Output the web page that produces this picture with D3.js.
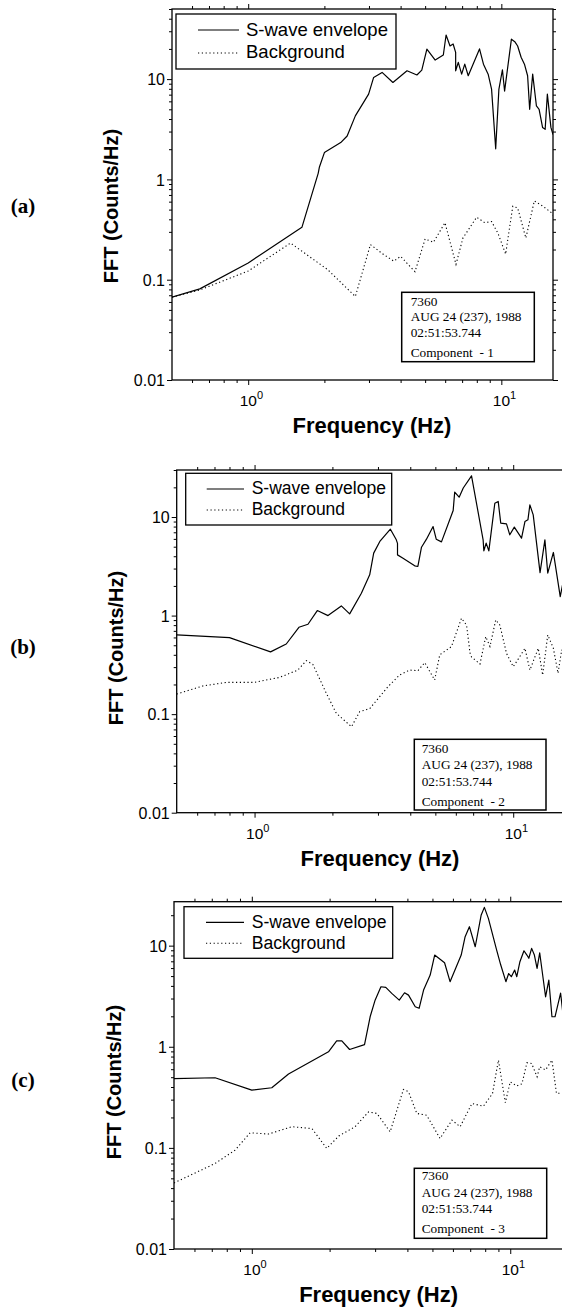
<!DOCTYPE html>
<html>
<head>
<meta charset="utf-8">
<script src="https://cdn.jsdelivr.net/npm/d3@7"></script>
<style>
  body { margin: 0; background: #fff; }
  svg { display: block; }
</style>
</head>
<body>
<svg id="fig" width="562" height="1309"></svg>
<script>
// ---- data: spectra as [frequency (Hz), amplitude (counts/Hz)] ----
const swaveA = [[0.5,0.067],[0.644,0.081],[1.0,0.147],[1.63,0.333],[1.89,1.15],[1.91,1.32],[2.0,1.85],[2.32,2.33],[2.46,2.71],[2.65,4.3],[2.99,7.08],[3.13,10.4],[3.38,11.66],[3.73,9.26],[4.24,12.1],[4.64,11.0],[4.85,12.3],[5.08,19.95],[5.48,15.5],[5.9,17.4],[6.05,27.5],[6.27,21.4],[6.45,22.4],[6.6,18.5],[6.6,12.1],[6.76,14.7],[6.97,11.2],[7.17,14.1],[7.4,10.8],[8.2,20],[8.5,14.1],[8.87,11.2],[9.15,7.94],[9.5,2.02],[9.78,7.9],[10.1,12.4],[10.3,7.6],[10.96,25],[11.3,23.6],[11.6,21.4],[11.97,16.5],[12.34,14.1],[12.7,10.8],[12.94,5.0],[13.3,11.2],[13.76,5.4],[14.1,5.0],[14.55,3.3],[14.9,3.16],[15.2,7.08],[15.7,3.3],[16,2.8]];
const backgroundA = [[0.5,0.067],[0.644,0.079],[1.0,0.122],[1.47,0.232],[2.06,0.126],[2.65,0.068],[3.04,0.224],[3.43,0.178],[3.76,0.153],[4.0,0.171],[4.56,0.12],[5.0,0.255],[5.39,0.236],[5.99,0.37],[6.62,0.142],[7.05,0.26],[7.99,0.42],[8.6,0.37],[9.15,0.38],[9.7,0.29],[10.4,0.18],[11.1,0.54],[11.6,0.52],[12.5,0.26],[13.5,0.61],[14.6,0.54],[15.7,0.47],[16,0.44]];

const swaveB = [[0.5,0.636],[0.8,0.598],[1.153,0.428],[1.326,0.515],[1.484,0.761],[1.609,0.817],[1.748,1.124],[1.923,1.0],[2.165,1.254],[2.332,1.04],[2.588,1.686],[2.787,2.59],[2.888,4.3],[3.05,5.65],[3.351,7.53],[3.532,5.87],[3.57,5.4],[3.57,4.13],[3.75,3.82],[4.16,3.2],[4.28,3.15],[4.42,4.94],[4.62,5.96],[4.9,8.0],[5.04,5.96],[5.28,5.6],[5.86,11.66],[5.94,17.9],[6.18,15.9],[6.41,19.7],[6.9,26.2],[7.65,5.87],[7.7,4.54],[7.86,5.43],[8.05,4.54],[8.49,13.8],[8.75,14.4],[8.95,8.66],[9.42,8.53],[9.7,6.6],[10.1,7.9],[10.77,6.1],[11.1,9.0],[11.4,9.37],[11.6,13.3],[11.95,10.5],[12.7,2.73],[13.26,5.87],[13.6,2.7],[14.3,4.37],[15.2,1.56],[15.6,2.2],[16,2.6]];
const backgroundB = [[0.5,0.16],[0.63,0.193],[0.777,0.21],[1.0,0.21],[1.25,0.236],[1.47,0.28],[1.585,0.349],[1.68,0.32],[1.894,0.163],[2.07,0.102],[2.37,0.0745],[2.55,0.106],[2.79,0.114],[3.28,0.19],[3.64,0.25],[3.98,0.28],[4.28,0.276],[4.55,0.333],[4.97,0.222],[5.2,0.4],[5.77,0.484],[6.31,0.94],[6.6,0.8],[6.78,0.46],[6.78,0.43],[6.9,0.38],[7.44,0.323],[7.83,0.612],[8.13,0.485],[8.56,0.904],[8.88,0.8],[9.42,0.414],[10.0,0.303],[10.4,0.354],[11.1,0.466],[11.6,0.28],[12.5,0.466],[13.0,0.249],[13.6,0.636],[14.3,0.466],[14.9,0.26],[15.4,0.45],[16,0.3]];

const swaveC = [[0.5,0.483],[0.721,0.494],[1.0,0.373],[1.195,0.393],[1.387,0.537],[1.98,0.892],[2.13,1.146],[2.23,1.146],[2.39,0.94],[2.73,1.05],[2.87,1.98],[3.0,2.89],[3.16,3.92],[3.3,3.86],[3.48,3.37],[3.72,2.89],[3.9,3.42],[4.04,3.24],[4.29,2.49],[4.44,2.4],[4.62,3.64],[4.9,5.12],[5.1,8.07],[5.57,6.77],[5.85,4.4],[6.46,8.07],[6.69,12.25],[6.95,15.4],[7.32,9.75],[7.72,20.1],[7.94,23.9],[8.23,18.6],[8.86,9.04],[9.19,6.43],[9.62,4.4],[9.86,5.3],[10.1,4.93],[10.4,5.74],[10.6,4.93],[10.9,6.93],[11.3,8.9],[11.6,8.07],[11.8,7.5],[12.1,9.4],[12.4,8.07],[12.7,5.96],[13.0,8.5],[13.7,3.12],[14.1,4.57],[14.5,1.98],[14.9,1.98],[15.66,3.4],[16,2.1]];
const backgroundC = [[0.5,0.045],[0.72,0.07],[0.862,0.095],[0.985,0.141],[1.16,0.137],[1.43,0.162],[1.71,0.155],[1.95,0.0987],[2.17,0.131],[2.51,0.162],[2.83,0.227],[3.05,0.219],[3.43,0.144],[3.86,0.378],[4.04,0.359],[4.35,0.219],[4.75,0.21],[5.35,0.124],[5.95,0.188],[6.4,0.162],[7.11,0.275],[7.87,0.258],[8.54,0.345],[9.0,0.738],[9.57,0.28],[10.0,0.45],[10.6,0.41],[11.1,0.43],[11.6,0.695],[12.1,0.684],[12.7,0.505],[13.0,0.634],[13.7,0.59],[14.5,0.738],[15.1,0.345],[16,0.35]];

// ---- labels and axis ticks ----
const panelTags = ["(a)", "(b)", "(c)"];
const legendLabels = ["S-wave envelope", "Background"];
const stationInfo = ["7360", "AUG 24 (237), 1988", "02:51:53.744"];
const componentLabels = ["Component  - 1", "Component  - 2", "Component  - 3"];
const yTickValues = [0.01, 0.1, 1, 10];
const yTickLabels = ["0.01", "0.1", "1", "10"];
const xTickValues = [1, 10];
const xTickExponents = ["0", "1"];
const xDomain = [0.5, 16];
const yMaxByPanel = [50, 30, 27.2];
const xTitle = "Frequency (Hz)";
const yTitle = "FFT (Counts/Hz)";

// ---- page layout ----
const SANS = "'Liberation Sans', Arial, Helvetica, sans-serif";
const SERIF = "'Liberation Serif', 'Times New Roman', Times, serif";
const layout = [
  { left: 172, right: 553, top: 9, bottom: 380,
    tag: [23, 213], yTitle: [118, 206], xTitle: [372, 433],
    legend: { x: 176, y: 14, w: 220, h: 55, x0: 198, x1: 239, r1: 30, r2: 53, tx: 246, b1: 36, b2: 57.5, fs: 18.5 },
    info: { x: 401.7, y: 292.3, w: 132.6, h: 69.4, tx: 410.7, bases: [306, 320.7, 336.7, 356.7] } },
  { left: 176.7, right: 566, top: 470, bottom: 812.7,
    tag: [23, 654], yTitle: [123, 648], xTitle: [380, 866],
    legend: { x: 185.7, y: 473.3, w: 206, h: 51.7, x0: 206.7, x1: 244, r1: 489, r2: 510, tx: 251.7, b1: 494, b2: 514.5, fs: 17.5 },
    info: { x: 414.3, y: 739.3, w: 131.7, h: 70.7, tx: 421.7, bases: [753.3, 769.3, 785.7, 805.7] } },
  { left: 174, right: 563, top: 901.7, bottom: 1249,
    tag: [23, 1087], yTitle: [121, 1082], xTitle: [378.6, 1302],
    legend: { x: 184, y: 906.7, w: 208.7, h: 51.6, x0: 206, x1: 244, r1: 922.3, r2: 943.3, tx: 251.7, b1: 927.5, b2: 948.5, fs: 17.6 },
    info: { x: 414.3, y: 1168.3, w: 132.4, h: 70, tx: 421.7, bases: [1180, 1196.7, 1213.3, 1233.3] } }
];
const swaveSets = [swaveA, swaveB, swaveC];
const backgroundSets = [backgroundA, backgroundB, backgroundC];

const svg = d3.select("#fig");

function minorTicks(lo, hi) {
  const out = [];
  for (let e = -3; e <= 2; e++) {
    for (let k = 2; k <= 9; k++) {
      const v = k * Math.pow(10, e);
      if (v >= lo * 0.999 && v <= hi * 1.001) out.push(v);
    }
  }
  return out;
}

function strip(sel) {
  sel.select(".domain").remove();
  sel.selectAll(".tick line").attr("stroke", "#000").attr("stroke-width", 1);
  return sel;
}

layout.forEach((L, i) => {
  const g = svg.append("g");
  const x = d3.scaleLog().domain(xDomain).range([L.left, L.right]);
  const y = d3.scaleLog().domain([0.01, yMaxByPanel[i]]).range([L.bottom, L.top]);
  const xMinor = minorTicks(xDomain[0], xDomain[1]).filter(v => v > xDomain[0]);
  const yMinor = minorTicks(0.01, yMaxByPanel[i]);

  // clip region for the spectra
  const clipId = "clip" + i;
  g.append("clipPath").attr("id", clipId)
    .append("rect").attr("x", L.left).attr("y", L.top)
    .attr("width", L.right - L.left).attr("height", L.bottom - L.top);

  // minor ticks on all four sides
  strip(g.append("g").attr("transform", `translate(0,${L.bottom})`)
    .call(d3.axisBottom(x).tickValues(xMinor).tickSize(3).tickFormat("")));
  strip(g.append("g").attr("transform", `translate(0,${L.top})`)
    .call(d3.axisTop(x).tickValues(xMinor).tickSize(3).tickFormat("")));
  strip(g.append("g").attr("transform", `translate(${L.left},0)`)
    .call(d3.axisLeft(y).tickValues(yMinor).tickSize(3).tickFormat("")));
  strip(g.append("g").attr("transform", `translate(${L.right},0)`)
    .call(d3.axisRight(y).tickValues(yMinor).tickSize(3).tickFormat("")));

  // major ticks
  const bx = strip(g.append("g").attr("transform", `translate(0,${L.bottom})`)
    .call(d3.axisBottom(x).tickValues(xTickValues).tickSize(5).tickFormat("")));
  strip(g.append("g").attr("transform", `translate(0,${L.top})`)
    .call(d3.axisTop(x).tickValues(xTickValues).tickSize(5).tickFormat("")));
  const ly = strip(g.append("g").attr("transform", `translate(${L.left},0)`)
    .call(d3.axisLeft(y).tickValues(yTickValues).tickSize(5)
      .tickFormat((d, k) => yTickLabels[k])));
  strip(g.append("g").attr("transform", `translate(${L.right},0)`)
    .call(d3.axisRight(y).tickValues(yTickValues).tickSize(5).tickFormat("")));

  ly.selectAll(".tick text")
    .attr("x", -7).attr("dy", "0.36em")
    .attr("font-family", SANS).attr("font-size", 16).attr("fill", "#000");

  // decade labels 10^n
  bx.selectAll(".tick").each(function (d, k) {
    const t = d3.select(this).append("text")
      .attr("y", 26).attr("text-anchor", "start")
      .attr("font-family", SANS).attr("fill", "#000");
    t.append("tspan").attr("x", -9).attr("font-size", 15.5).text("10");
    t.append("tspan").attr("dy", -7).attr("font-size", 11).text(xTickExponents[k]);
  });

  // frame
  g.append("rect")
    .attr("x", L.left).attr("y", L.top)
    .attr("width", L.right - L.left).attr("height", L.bottom - L.top)
    .attr("fill", "none").attr("stroke", "#000").attr("stroke-width", 1.3);

  const line = d3.line().x(d => x(d[0])).y(d => y(d[1]));
  const plot = g.append("g").attr("clip-path", `url(#${clipId})`);
  plot.append("path").datum(backgroundSets[i])
    .attr("d", line).attr("fill", "none").attr("stroke", "#000")
    .attr("stroke-width", 1.1).attr("stroke-dasharray", "1.2,2.6");
  plot.append("path").datum(swaveSets[i])
    .attr("d", line).attr("fill", "none").attr("stroke", "#000")
    .attr("stroke-width", 1.2).attr("stroke-linejoin", "round");

  // legend
  const lg = L.legend;
  g.append("rect").attr("x", lg.x).attr("y", lg.y).attr("width", lg.w).attr("height", lg.h)
    .attr("fill", "#fff").attr("stroke", "#000").attr("stroke-width", 1.3);
  g.append("line").attr("x1", lg.x0).attr("x2", lg.x1).attr("y1", lg.r1).attr("y2", lg.r1)
    .attr("stroke", "#000").attr("stroke-width", 1.2);
  g.append("line").attr("x1", lg.x0).attr("x2", lg.x1).attr("y1", lg.r2).attr("y2", lg.r2)
    .attr("stroke", "#000").attr("stroke-width", 1.1).attr("stroke-dasharray", "1.2,2.6");
  [lg.b1, lg.b2].forEach((b, k) => {
    g.append("text").attr("x", lg.tx).attr("y", b)
      .attr("font-family", SANS).attr("font-size", lg.fs).attr("fill", "#000")
      .text(legendLabels[k]);
  });

  // station / event box
  const inf = L.info;
  g.append("rect").attr("x", inf.x).attr("y", inf.y).attr("width", inf.w).attr("height", inf.h)
    .attr("fill", "#fff").attr("stroke", "#000").attr("stroke-width", 1.5);
  stationInfo.concat([componentLabels[i]]).forEach((s, k) => {
    g.append("text").attr("x", inf.tx).attr("y", inf.bases[k])
      .attr("font-family", SERIF).attr("font-size", 13.3).attr("fill", "#000")
      .attr("xml:space", "preserve").style("white-space", "pre")
      .text(s);
  });

  // axis titles
  g.append("text")
    .attr("transform", `translate(${L.yTitle[0]},${L.yTitle[1]}) rotate(-90)`)
    .attr("text-anchor", "middle")
    .attr("font-family", SANS).attr("font-weight", "bold").attr("font-size", 20)
    .attr("fill", "#000").text(yTitle);
  g.append("text")
    .attr("x", L.xTitle[0]).attr("y", L.xTitle[1])
    .attr("text-anchor", "middle")
    .attr("font-family", SANS).attr("font-weight", "bold").attr("font-size", 22)
    .attr("fill", "#000").text(xTitle);

  // panel tag
  g.append("text")
    .attr("x", L.tag[0]).attr("y", L.tag[1]).attr("text-anchor", "middle")
    .attr("font-family", SERIF).attr("font-weight", "bold").attr("font-size", 21)
    .attr("fill", "#000").text(panelTags[i]);
});
</script>
</body>
</html>
